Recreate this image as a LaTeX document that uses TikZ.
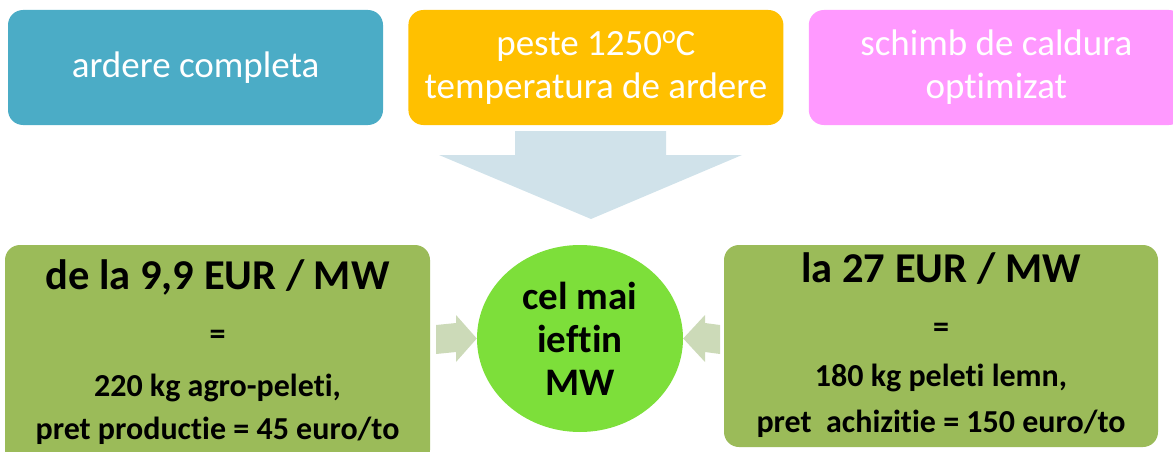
\documentclass[tikz,border=0pt]{standalone}
\usepackage{fontspec}
\setmainfont{Carlito}[RawFeature={-liga,-dlig,-clig}]
\usetikzlibrary{shapes.geometric, positioning}

\definecolor{tealfill}{HTML}{4BACC6}
\definecolor{orangefill}{HTML}{FFC000}
\definecolor{pinkfill}{HTML}{FF99FF}
\definecolor{pricefill}{HTML}{9BBB59}
\definecolor{roundfill}{HTML}{7DDF3A}
\definecolor{bigarrowfill}{HTML}{D0E2EA}
\definecolor{smallarrowfill}{HTML}{CCDAB8}

\tikzstyle{topbox} = [rectangle, rounded corners=15pt, minimum width=375pt, minimum height=115pt, inner sep=0pt, text centered, align=center, text=white, font=\fontsize{37}{43}\selectfont]
\tikzstyle{pricebox} = [rectangle, rounded corners=15pt, fill=pricefill, inner sep=0pt]
\tikzstyle{pricehead} = [anchor=base, inner sep=0pt, font=\bfseries\fontsize{42.5}{43}\selectfont]
\tikzstyle{priceline} = [anchor=base, inner sep=0pt, font=\bfseries\fontsize{32}{34}\selectfont]
\tikzstyle{cheapest} = [ellipse, fill=roundfill, minimum width=206pt, minimum height=187pt, inner sep=0pt, align=center, font=\bfseries\fontsize{39}{43}\selectfont]
\tikzstyle{bigarrow} = [fill=bigarrowfill]
\tikzstyle{smallarrow} = [fill=smallarrowfill]

\newcommand{\dego}{\raisebox{0.33em}{\fontsize{26}{26}\selectfont o}}

\begin{document}
\begin{tikzpicture}[x=1pt, y=-1pt]
        \useasboundingbox (0,0) rectangle (1173,452);
        \clip (0,0) rectangle (1173,452);

        % Nodes
        \node (complete) [topbox, fill=tealfill] at (195.5,67.5) {ardere completa};
        \node (temp) [topbox, fill=orangefill, right=25pt of complete] {peste 1250\dego C\\temperatura de ardere};
        \node (exchange) [topbox, fill=pinkfill, right=25pt of temp] {schimb de caldura\\optimizat};

        \node (agro) [pricebox, minimum width=425pt, minimum height=220pt] at (217.5,355) {};
        \node (wood) [pricebox, minimum width=434pt, minimum height=202pt] at (941,346) {};
        \node (cheap) [cheapest] at (580,338.5) {cel mai\\ieftin\\MW};

        \node (agrohead) [pricehead] at ([yshift=-45pt]agro.north) {de la 9,9 EUR / MW};
        \node (agroeq) [priceline] at ([yshift=-100pt]agro.north) {=};
        \node (agroqty) [priceline] at ([yshift=-152pt]agro.north) {220 kg agro-peleti,};
        \node (agrocost) [priceline] at ([yshift=-195pt]agro.north) {pret productie = 45 euro/to};

        \node (woodhead) [pricehead] at ([yshift=-38pt]wood.north) {la 27 EUR / MW};
        \node (woodeq) [priceline] at ([yshift=-93pt]wood.north) {=};
        \node (woodqty) [priceline] at ([yshift=-142pt]wood.north) {180 kg peleti lemn,};
        \node (woodcost) [priceline] at ([yshift=-188pt]wood.north) {pret\ \ achizitie = 150 euro/to};

        % Arrows
        \fill [bigarrow] (515,131) -- (666,131) -- (666,155) -- (742,155) -- (591,219) -- (439,155) -- (515,155) -- cycle;
        \fill [smallarrow] (436,325) -- (456,323) -- (456,315) -- (cheap.west) -- (456,362) -- (456,352) -- (436,354) -- cycle;
        \fill [smallarrow] (720,325) -- (705,323) -- (705,315) -- (cheap.east) -- (705,362) -- (705,352) -- (720,354) -- cycle;
    \end{tikzpicture}
\end{document}
